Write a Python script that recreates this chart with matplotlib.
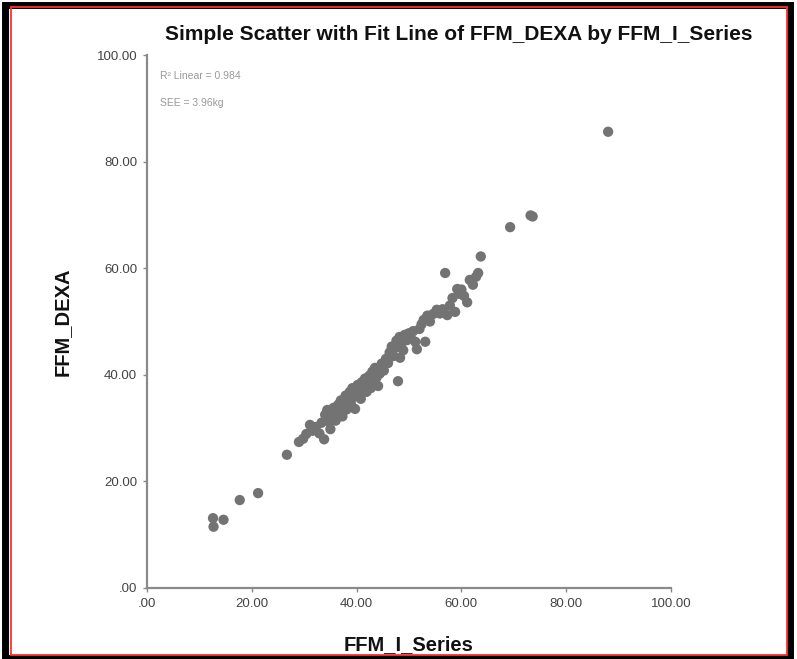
import matplotlib.pyplot as plt
from matplotlib.patches import Rectangle

plt.rcParams["font.family"] = ["Liberation Sans", "DejaVu Sans"]

TITLE = "Simple Scatter with Fit Line of FFM_DEXA by FFM_I_Series"
X_LABEL = "FFM_I_Series"
Y_LABEL = "FFM_DEXA"
TICKS = [0, 20, 40, 60, 80, 100]
TICK_LABELS = [".00", "20.00", "40.00", "60.00", "80.00", "100.00"]
NOTES = ["R\u00b2 Linear = 0.984", "SEE = 3.96kg"]

ffm_i_series = [
    12.6, 12.7, 14.6, 17.7, 21.2, 26.7, 29.0, 29.8, 30.4, 31.1,
    31.6, 32.2, 32.9, 33.3, 33.8, 34.0, 34.4, 34.8, 35.0, 35.3,
    35.6, 36.0, 36.2, 36.5, 36.8, 37.0, 37.3, 37.6, 37.9, 38.1,
    38.4, 38.7, 38.9, 39.2, 39.4, 39.7, 40.0, 40.2, 40.5, 40.8,
    41.0, 41.3, 41.6, 41.9, 42.1, 42.4, 42.7, 43.0, 43.3, 43.5,
    43.8, 44.1, 44.4, 44.8, 45.2, 45.6, 46.0, 46.3, 46.7, 47.0,
    47.3, 47.6, 47.9, 48.2, 48.3, 48.5, 48.9, 49.2, 49.6, 50.0,
    50.3, 50.8, 51.2, 51.5, 52.0, 52.4, 52.8, 53.1, 53.5, 54.0,
    54.6, 55.3, 55.9, 56.4, 56.9, 57.3, 57.8, 58.3, 58.8, 59.2,
    59.6, 60.0, 60.5, 61.1, 61.6, 62.2, 62.8, 63.2, 63.7, 69.3,
    73.2, 73.6, 88.0,
]
ffm_dexa = [
    13.1, 11.5, 12.8, 16.5, 17.8, 25.0, 27.4, 28.0, 28.9, 30.6,
    29.5, 30.2, 29.0, 31.0, 27.9, 32.5, 33.4, 31.2, 29.8, 32.0,
    33.8, 31.4, 32.8, 34.4, 33.0, 35.2, 32.2, 34.0, 36.1, 33.5,
    35.4, 36.8, 34.6, 37.5, 35.8, 33.6, 36.5, 38.1, 37.0, 35.5,
    38.6, 37.4, 39.3, 36.8, 38.0, 39.8, 37.5, 40.6, 38.7, 41.3,
    39.5, 37.9, 40.2, 42.1, 40.8, 43.0, 42.2, 44.2, 45.3, 43.5,
    45.0, 46.4, 38.8, 47.1, 43.2, 45.8, 44.6, 47.5, 46.5, 47.8,
    47.1, 48.2, 46.2, 44.8, 48.6, 49.5, 50.3, 46.2, 51.1, 50.0,
    51.4, 52.2, 51.5, 52.3, 59.1, 51.2, 53.0, 54.4, 51.8, 56.1,
    55.2, 56.0, 54.8, 53.6, 57.8, 56.9, 58.4, 59.1, 62.2, 67.7,
    69.9, 69.7, 85.6,
]

W, H = 797, 659
fig = plt.figure(figsize=(W / 100, H / 100), dpi=100)
fig.patch.set_facecolor("white")

# SPSS output frame: black outer border with a thin red line inside
fig.patches.append(Rectangle((5 / W, 1.5 / H), 785 / W, 653 / H, transform=fig.transFigure,
                             fill=False, edgecolor="black", linewidth=5))
fig.patches.append(Rectangle((10.5 / W, 4.5 / H), 776 / W, 648 / H, transform=fig.transFigure,
                             fill=False, edgecolor="#ff3030", linewidth=1.3))

ax = fig.add_axes([147 / W, 1 - 588 / H, 524 / W, 533 / H])
ax.scatter(ffm_i_series, ffm_dexa, s=55, color="#737373", edgecolors="none", zorder=3)

ax.set_xlim(0, 100)
ax.set_ylim(0, 100)
ax.set_xticks(TICKS)
ax.set_xticklabels(TICK_LABELS)
ax.set_yticks(TICKS)
ax.set_yticklabels(TICK_LABELS)
ax.tick_params(length=3, width=1, color="#888888", labelsize=9.5, labelcolor="#444444", pad=4)
for side in ["top", "right"]:
    ax.spines[side].set_visible(False)
for side in ["left", "bottom"]:
    ax.spines[side].set_color("#8a8a8a")
    ax.spines[side].set_linewidth(1.6)

ax.set_xlabel(X_LABEL, fontsize=14.5, fontweight="bold", color="#111111", va="center")
ax.set_ylabel(Y_LABEL, fontsize=14.5, fontweight="bold", color="#111111", va="center")
ax.xaxis.set_label_coords(0.5, -0.107)
ax.yaxis.set_label_coords(-0.162, 0.499)
fig.text(459 / W, 1 - 35 / H, TITLE, ha="center", va="center", fontsize=15,
         fontweight="bold", color="#111111")

ax.text(0.025, 0.96, NOTES[0], transform=ax.transAxes, fontsize=7.5, color="#999999", va="center")
ax.text(0.025, 0.91, NOTES[1], transform=ax.transAxes, fontsize=7.5, color="#999999", va="center")

fig.savefig("out.png", dpi=100, facecolor="white")
